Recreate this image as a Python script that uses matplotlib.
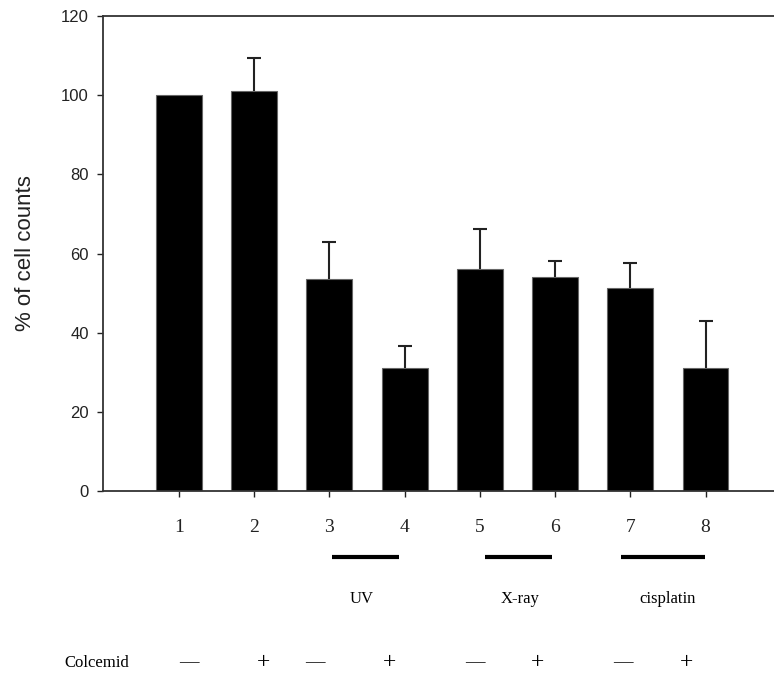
import numpy as np
import matplotlib
matplotlib.use("Agg")
import matplotlib.pyplot as plt


# Data
lanes = [1, 2, 3, 4, 5, 6, 7, 8]
counts = [100, 101, 53.5, 31.2, 56, 54, 51.2, 31.2]
errors = [0, 8.5, 9.4, 5.5, 10.2, 4.1, 6.5, 11.7]
colcemid = ["—", "+", "—", "+", "—", "+", "—", "+"]
treatments = ["UV", "X-ray", "cisplatin"]

# Layout helpers (label offsets / bracket spans, in lane units)
sign_x = [1.13, 2.12, 2.81, 3.80, 4.93, 5.77, 6.90, 7.75]
bracket_span = [(3.03, 3.93), (5.07, 5.96), (6.87, 7.99)]
treat_x = [3.43, 5.53, 7.49]

serif = "Liberation Serif"
sans = "Liberation Sans"

fig = plt.figure(figsize=(7.74, 6.81), dpi=100)
ax = fig.add_axes([103/774, 190/681, 1 - 103/774, 475/681])

ax.bar(lanes, counts, width=0.61, color="black", edgecolor="#666666", linewidth=0.8)

# upper error bars only, lane 1 is the reference (no error)
has_err = [e > 0 for e in errors]
ex = [l for l, h in zip(lanes, has_err) if h]
ey = [c for c, h in zip(counts, has_err) if h]
ee = [e for e, h in zip(errors, has_err) if h]
_, caps, _ = ax.errorbar(ex, ey, yerr=[np.zeros(len(ee)), ee], fmt="none",
                         ecolor="#222222", elinewidth=1.5, capsize=4.7, capthick=1.5)
caps[0].remove()  # drop the caps sitting on the bar tops

ax.set_xlim(-0.01, 8.91)
ax.set_ylim(0, 120)
ax.set_yticks(np.arange(0, 121, 20))
ax.set_xticks(lanes)
ax.set_xticklabels([str(l) for l in lanes], family=serif, fontsize=14)
ax.tick_params(axis="x", direction="out", length=4.3, width=1, pad=16, colors="#222222")
ax.tick_params(axis="y", direction="out", length=4.3, width=1, pad=6, labelsize=12,
               colors="#222222")
for lab in ax.get_yticklabels():
    lab.set_family(sans)

ax.spines["right"].set_visible(False)
for s in ["left", "top", "bottom"]:
    ax.spines[s].set_color("#333333")
    ax.spines[s].set_linewidth(1.3)

ax.set_ylabel("% of cell counts", family=sans, fontsize=16, color="#222222")
ax.yaxis.set_label_coords(-0.1, 0.5)

trans = ax.get_xaxis_transform()

# treatment brackets and names
for (x0, x1), name, tx in zip(bracket_span, treatments, treat_x):
    ax.plot([x0, x1], [-0.139, -0.139], color="black", lw=3, transform=trans,
            clip_on=False, solid_capstyle="butt")
    ax.text(tx, -0.228, name, transform=trans, ha="center", va="center",
            family=serif, fontsize=12)

# colcemid row
ax.text(-0.09, -0.362, "Colcemid", transform=trans, ha="center", va="center",
        family=serif, fontsize=12)
for x, s in zip(sign_x, colcemid):
    ax.text(x, -0.362, s, transform=trans, ha="center", va="center",
            family=serif, fontsize=14 if s == "—" else 17)

fig.savefig("out.png", dpi=100)
